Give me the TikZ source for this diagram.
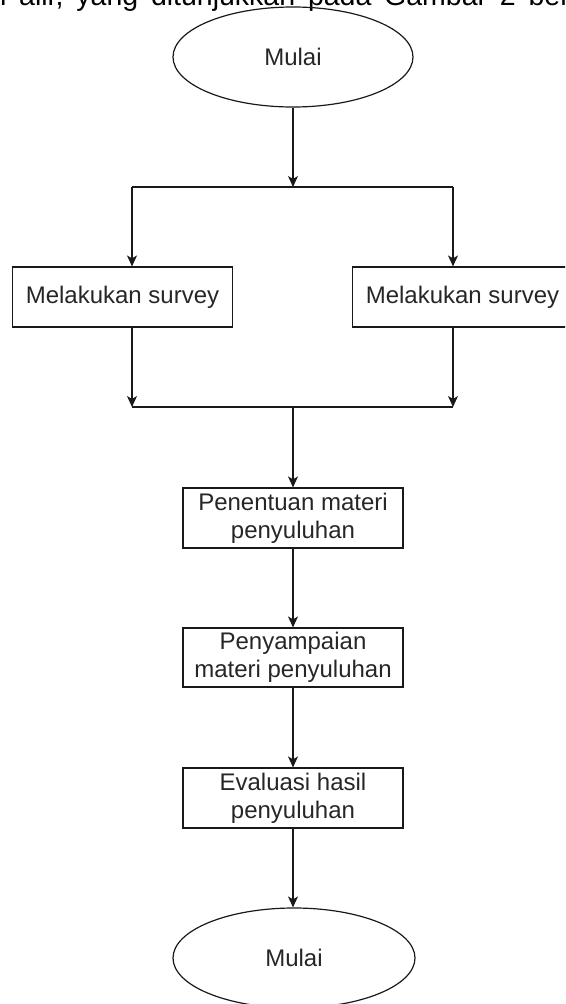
\documentclass[tikz,border=0pt]{standalone}
\usepackage{fontspec}
\setmainfont{Liberation Sans}
\usetikzlibrary{shapes.geometric,arrows.meta}
\newcommand{\widespaces}{\spaceskip=0.45em\relax}
\begin{document}
\begin{tikzpicture}[x=1pt,y=1pt,
  line width=1.2pt, draw=black!90,
  every node/.style={font=\fontsize{24}{28}\selectfont, text=black!85},
  term/.style={draw=black!90, ellipse, minimum width=240pt, minimum height=100pt, inner sep=0pt},
  proc/.style={draw=black!90, rectangle, minimum width=220pt, minimum height=60pt, inner sep=0pt, align=center},
  arr/.style={-{Stealth[length=11pt,width=10pt,inset=3pt]}},
]
\useasboundingbox (0,0) rectangle (565,-1004);
\clip (0,0) rectangle (565,-1004);

\node[anchor=base west, inner sep=0pt, text=black, font=\fontsize{28.5}{30}\selectfont] (hdr) at (-10,-5) {\widespaces n alir, yang ditunjukkan pada Gambar 2 ber};

\node[term] (start) at (293,-57) {Mulai};
\coordinate (split) at (293,-187);
\coordinate (splitL) at (132,-187);
\coordinate (splitR) at (453,-187);
\node[proc] (sL) at (122.5,-297) {Melakukan survey};
\node[proc] (sR) at (462.5,-297) {Melakukan survey};
\coordinate (mergeL) at (132,-407);
\coordinate (mergeR) at (453,-407);
\coordinate (merge) at (293,-407);
\node[proc] (p1) at (293,-518) {Penentuan materi\\penyuluhan};
\node[proc, minimum height=59pt] (p2) at (293,-657.5) {Penyampaian\\materi penyuluhan};
\node[proc] (p3) at (293,-798) {Evaluasi hasil\\penyuluhan};
\node[term, minimum width=242pt] (end) at (294,-958) {Mulai};

\draw[arr] (start) -- (split);
\draw (splitL) -- (splitR);
\draw[arr] (splitL) -- (splitL |- sL.north);
\draw[arr] (splitR) -- (splitR |- sR.north);
\draw[arr] (sL.south -| mergeL) -- (mergeL);
\draw[arr] (sR.south -| mergeR) -- (mergeR);
\draw (mergeL) -- (mergeR);
\draw[arr] (merge) -- (p1);
\draw[arr] (p1) -- (p2);
\draw[arr] (p2) -- (p3);
\draw[arr] (p3.south) -- (p3.south |- end.north);
\end{tikzpicture}
\end{document}
